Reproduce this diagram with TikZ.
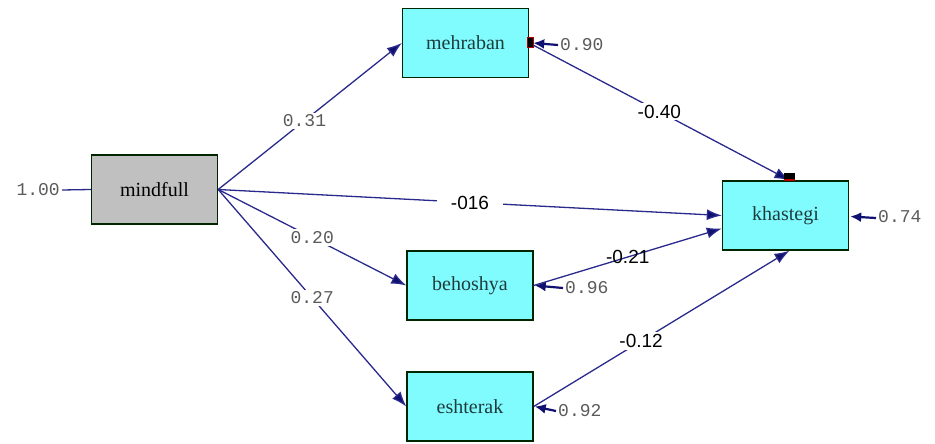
\documentclass[tikz,border=0pt]{standalone}
\usepackage{fontspec}
\setmainfont{Liberation Serif}
\newfontfamily\monofnt{Liberation Mono}
\newfontfamily\sansfnt{Liberation Sans}
\usetikzlibrary{arrows.meta}
\definecolor{lineblue}{HTML}{2A2A8C}
\definecolor{headblue}{HTML}{101070}
\definecolor{boxcyan}{HTML}{80FCFF}
\definecolor{boxgray}{HTML}{C0C0C0}
\definecolor{boxtext}{HTML}{1E3C3C}
\definecolor{numgray}{HTML}{5A5A5A}
\tikzset{
  varbox/.style={draw=black!85!green, line width=1.4pt, fill=boxcyan, minimum width=126pt, minimum height=69pt, font=\fontsize{20}{20}\selectfont, text=boxtext, inner sep=0pt},
  exobox/.style={varbox, fill=boxgray, text=black},
  path/.style={draw=lineblue, line width=1.3pt, -{Latex[length=15pt,width=11pt,fill=headblue]}},
  errpath/.style={draw=headblue, line width=2.2pt, -{Latex[length=11pt,width=10pt,fill=headblue]}},
  plainpath/.style={draw=lineblue, line width=1.3pt},
  coef/.style={font=\monofnt\fontsize{18}{18}\selectfont, text=numgray, fill=white, inner sep=2pt},
  coefb/.style={font=\sansfnt\fontsize{19}{19}\selectfont, text=black, fill=white, inner sep=2pt},
}
\begin{document}
\begin{tikzpicture}[x=1pt,y=-1pt]
\useasboundingbox (0,0) rectangle (935,444);
% nodes
\node[exobox] (mind) at (154.5,189.5) {mindfull};
\node[varbox] (meh) at (465.5,43) {mehraban};
\node[varbox] (kha) at (785.5,215.5) {khastegi};
\node[varbox] (beh) at (470,285.5) {behoshya};
\node[varbox] (esh) at (470,406.5) {eshterak};
% error labels
\node[coef,fill=none,anchor=east] (e0) at (62,190) {1.00};
\node[coef,fill=none,anchor=west] (e1) at (558,45) {0.90};
\node[coef,fill=none,anchor=west] (e2) at (876,217) {0.74};
\node[coef,fill=none,anchor=west] (e3) at (563,288) {0.96};
\node[coef,fill=none,anchor=west] (e4) at (556,411) {0.92};
\draw[plainpath] (e0.east) -- (mind.west);
\draw[errpath] (e1.west) -- ([xshift=4pt]meh.east);
\draw[errpath] ([yshift=-1pt]e2.west) -- ([xshift=1pt,yshift=-1pt]kha.east);
\draw[errpath] (e3.west) -- ([xshift=1pt]beh.east);
\draw[errpath] (e4.west) -- ([xshift=1pt]esh.east);
% structural paths
\draw[path] (mind.east) -- node[coef,pos=0.47]{0.31} (meh.west);
\draw[path] (mind.east) -- node[coefb,pos=0.5,inner xsep=14pt]{-016} (kha.west);
\draw[path] (mind.east) -- node[coef,pos=0.5]{0.20} (beh.west);
\draw[path] (mind.east) -- node[coef,pos=0.5]{0.27} (esh.west);
\draw[path] (meh.east) -- node[coefb,pos=0.5]{-0.40} ([xshift=4pt]kha.north);
\draw[path] (beh.east) -- node[coefb,pos=0.5,fill=none]{-0.21} ([yshift=-13pt]kha.west);
\draw[path] (esh.east) -- node[coefb,pos=0.42]{-0.12} ([xshift=4pt]kha.south);
% small markers
\node[draw=red!70!black, fill=black, minimum width=6pt, minimum height=10pt, inner sep=0pt, line width=1pt] (m1) at ([xshift=1pt]meh.east) {};
\node[draw=black, fill=black, minimum width=10pt, minimum height=7pt, inner sep=0pt] (m2) at ([xshift=4pt,yshift=4pt]kha.north) {};
\draw[red!70!black, line width=1.2pt] (m2.south west) -- (m2.south east);
\end{tikzpicture}
\end{document}
